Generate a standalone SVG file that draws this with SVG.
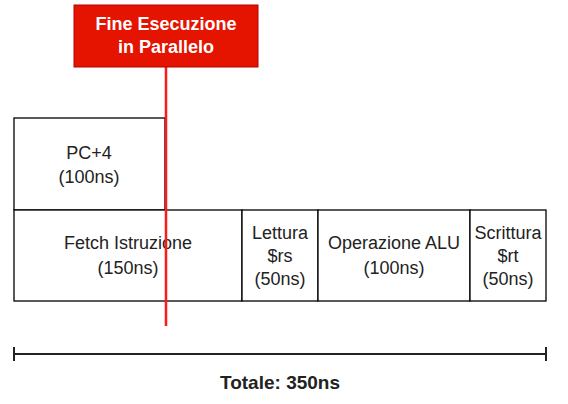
<svg xmlns="http://www.w3.org/2000/svg" width="568" height="404" viewBox="0 0 568 404">
<style>
.box{fill:#ffffff;stroke:#000000;stroke-width:1.3}
.t{font-family:"Liberation Sans",Arial,sans-serif;font-size:18px;fill:#222222;text-anchor:middle}
.w{font-family:"Liberation Sans",Arial,sans-serif;font-size:18px;font-weight:bold;fill:#ffffff;text-anchor:middle}
.b{font-family:"Liberation Sans",Arial,sans-serif;font-size:19px;font-weight:bold;fill:#222222;text-anchor:middle}
</style>
<rect width="568" height="404" fill="#ffffff"/>
<g id="pc4"><rect class="box" x="14" y="118" width="151" height="92"/><text class="t" x="89" y="159">PC+4</text><text class="t" x="89" y="183">(100ns)</text></g>
<g id="fetch"><rect class="box" x="14" y="210" width="228" height="91"/><text class="t" x="128" y="249">Fetch Istruzione</text><text class="t" x="128" y="274">(150ns)</text></g>
<g id="lettura"><rect class="box" x="242" y="210" width="76" height="91"/><text class="t" x="280" y="239">Lettura</text><text class="t" x="280" y="262">$rs</text><text class="t" x="280" y="285">(50ns)</text></g>
<g id="alu"><rect class="box" x="318" y="210" width="152" height="91"/><text class="t" x="394" y="249">Operazione ALU</text><text class="t" x="394" y="274">(100ns)</text></g>
<g id="scrittura"><rect class="box" x="470" y="210" width="76" height="91"/><text class="t" x="508" y="239">Scrittura</text><text class="t" x="508" y="262">$rt</text><text class="t" x="508" y="285">(50ns)</text></g>
<g id="connectors">
<line x1="166" y1="67" x2="166" y2="326" stroke="#ff1a1a" stroke-width="2.5"/>
<line x1="14" y1="354" x2="546" y2="354" stroke="#222222" stroke-width="2"/>
<line x1="14" y1="347" x2="14" y2="361" stroke="#222222" stroke-width="2"/>
<line x1="546" y1="347" x2="546" y2="361" stroke="#222222" stroke-width="2"/>
</g>
<g id="fine"><rect x="74" y="5" width="184" height="62" fill="#e51400" stroke="#b20000" stroke-width="1"/><text class="w" x="166" y="30">Fine Esecuzione</text><text class="w" x="166" y="53">in Parallelo</text></g>
<g id="totale"><text class="b" x="280" y="389">Totale: 350ns</text></g>
</svg>
